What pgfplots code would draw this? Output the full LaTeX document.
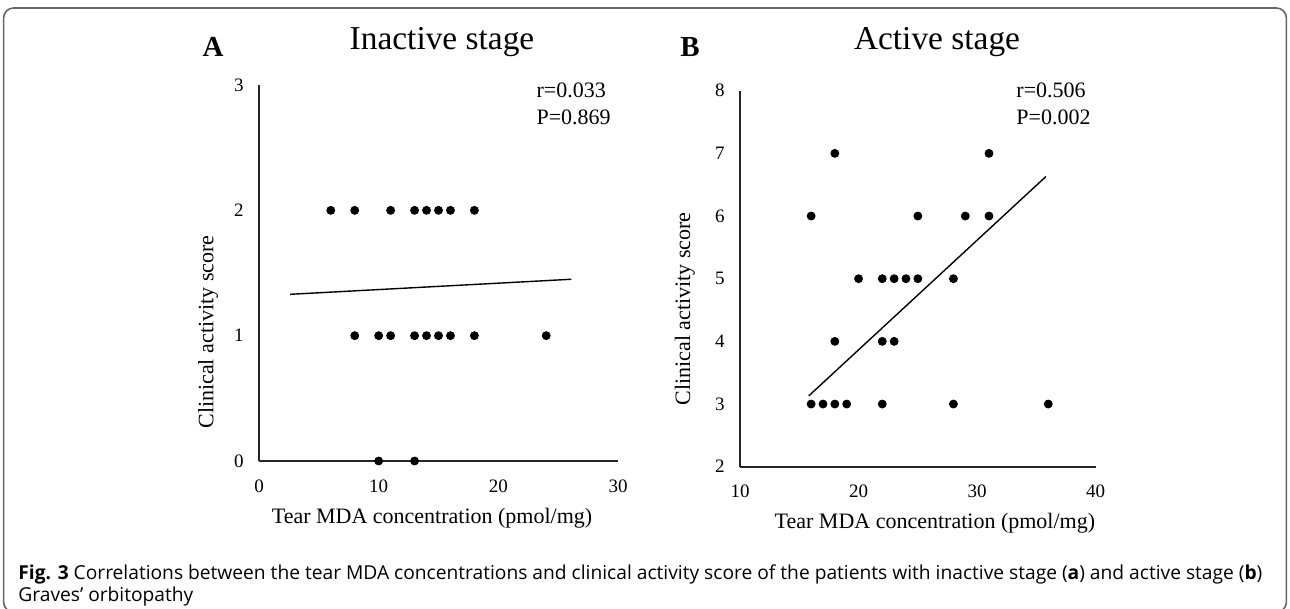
\documentclass[border=0pt]{standalone}
\usepackage{fontspec}
\setmainfont{Liberation Serif}
\newfontfamily\capfont{Open Sans}
\usepackage{pgfplots}
\usepackage{pgfplotstable}
\pgfplotsset{compat=1.18}

% inactive stage: (MDA, CAS)
\pgfplotstableread{
x y
6 2
8 2
11 2
13 2
14 2
15 2
16 2
18 2
8 1
10 1
11 1
13 1
14 1
15 1
16 1
18 1
24 1
10 0
13 0
}\inactivedata

% active stage
\pgfplotstableread{
x y
18 7
31 7
16 6
25 6
29 6
31 6
20 5
22 5
23 5
24 5
25 5
28 5
18 4
22 4
23 4
16 3
17 3
18 3
19 3
22 3
28 3
36 3
}\activedata

\pgfplotsset{
  panel/.style={
    anchor=south west, scale only axis,
    height=188pt,
    axis lines=left,
    axis line style={-, line width=0.9pt, black!85},
    major tick length=0pt,
    /pgf/number format/assume math mode=true,
    tick label style={font=\fontsize{9.5}{11}\selectfont},
    yticklabel style={anchor=east, inner sep=0pt, xshift=-7.5pt},
    xticklabel style={anchor=north, inner sep=0pt, yshift=-9pt},
    label style={font=\fontsize{11}{13}\selectfont},
    xlabel={Tear MDA concentration (pmol/mg)},
    ylabel={Clinical activity score},
    clip=false,
  },
  dots/.style={only marks, mark=*, mark size=2pt, black},
  fit/.style={black, line width=0.7pt, no marks},
}

\begin{document}
\begin{tikzpicture}
\useasboundingbox (0,0) rectangle (645pt,-304.5pt);
\draw[gray!80!black, line width=0.8pt, rounded corners=5pt] (1.8pt,-4pt) rectangle (643.2pt,-306pt);

% panel A
\begin{axis}[panel,
  at={(129.5pt,-230.5pt)}, width=179.5pt,
  xmin=0, xmax=30, ymin=0, ymax=3,
  xtick={0,10,20,30}, ytick={0,1,2,3},
  xlabel style={at={(axis description cs:0.482,-0.152)}, anchor=center},
  ylabel style={at={(axis description cs:-0.142,0.343)}, anchor=center},
]
\addplot[dots] table[x=x, y=y] {\inactivedata};
\addplot[fit] coordinates {(2.6,1.33) (26.1,1.45)};
\node[anchor=base west, font=\fontsize{11}{13}\selectfont, inner sep=0pt] at (axis description cs:0.772,0.968) {r=0.033};
\node[anchor=base west, font=\fontsize{11}{13}\selectfont, inner sep=0pt] at (axis description cs:0.772,0.894) {P=0.869};
\end{axis}

% panel B
\begin{axis}[panel,
  at={(370pt,-233.35pt)}, width=177.85pt,
  xmin=10, xmax=40, ymin=2, ymax=8,
  xtick={10,20,30,40}, ytick={2,3,4,5,6,7,8},
  xlabel style={at={(axis description cs:0.548,-0.15)}, anchor=center},
  ylabel style={at={(axis description cs:-0.155,0.42)}, anchor=center},
]
\addplot[dots] table[x=x, y=y] {\activedata};
\addplot[fit] coordinates {(15.8,3.13) (35.8,6.63)};
\node[anchor=base west, font=\fontsize{11}{13}\selectfont, inner sep=0pt] at (axis description cs:0.776,0.983) {r=0.506};
\node[anchor=base west, font=\fontsize{11}{13}\selectfont, inner sep=0pt] at (axis description cs:0.776,0.909) {P=0.002};
\end{axis}

% panel letters and titles
\node[anchor=base, font=\fontsize{14.5}{16}\selectfont\bfseries, inner sep=0pt] at (106.5pt,-28.5pt) {A};
\node[anchor=base, font=\fontsize{16.7}{19}\selectfont, inner sep=0pt] at (221pt,-25pt) {Inactive stage};
\node[anchor=base, font=\fontsize{14.5}{16}\selectfont\bfseries, inner sep=0pt] at (345pt,-28.5pt) {B};
\node[anchor=base, font=\fontsize{16.7}{19}\selectfont, inner sep=0pt] at (468.5pt,-25pt) {Active stage};

% caption
\node[anchor=base west, inner sep=0pt, font=\capfont\fontsize{9.6}{11}\selectfont] at (9pt,-289.5pt)
  {\textbf{Fig. 3} Correlations between the tear MDA concentrations and clinical activity score of the patients with inactive stage (\textbf{a}) and active stage (\textbf{b})};
\node[anchor=base west, inner sep=0pt, font=\capfont\fontsize{9.6}{11}\selectfont] at (9pt,-300.5pt)
  {Graves’ orbitopathy};
\end{tikzpicture}
\end{document}
